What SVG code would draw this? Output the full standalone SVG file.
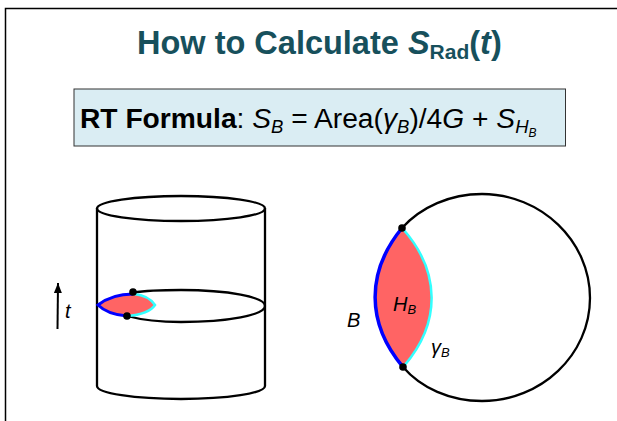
<svg xmlns="http://www.w3.org/2000/svg" width="617" height="421" viewBox="0 0 617 421">
<style>
.s{font-family:"Liberation Sans",Arial,sans-serif}
.i{font-style:italic}
.title{fill:#17505c;font-weight:bold;font-size:32.500px}
.f{fill:#000;font-size:28.200px}
.l{fill:#000;font-size:20px}
.line{fill:none;stroke:#000;stroke-width:2.300}
.dot{fill:#000}
</style>
<defs><marker id="a" markerWidth="10" markerHeight="8" refX="10" refY="4" orient="auto" markerUnits="userSpaceOnUse" viewBox="0 0 10 8"><path d="M0 0L10 4L0 8Z" fill="#000"/></marker></defs>
<path id="frame" d="M617 8.500H5.500V421" fill="none" stroke="#000" stroke-width="1.500"/>
<g id="title"><text class="s title" x="137" y="53.500">How to Calculate <tspan class="i">S</tspan><tspan font-size="21" dy="5">Rad</tspan><tspan dy="-5">(</tspan><tspan class="i">t</tspan>)</text></g>
<g id="formula">
<rect x="74" y="89" width="491.500" height="57" fill="#daedf3" stroke="#333" stroke-width="1"/>
<text class="s f" x="80" y="128"><tspan font-weight="bold">RT Formula</tspan>: <tspan class="i">S</tspan><tspan class="i" font-size="18.500" dy="5">B</tspan><tspan dy="-5"> = Area(</tspan><tspan class="i">γ</tspan><tspan class="i" font-size="18.500" dy="5">B</tspan><tspan dy="-5">)/4</tspan><tspan class="i">G</tspan> + <tspan class="i">S</tspan><tspan class="i" font-size="18.500" dy="5">H</tspan><tspan class="i" font-size="12" dy="4">B</tspan></text>
</g>
<g id="cylinder">
<ellipse class="line" cx="181" cy="208.500" rx="84" ry="12.500"/>
<path class="line" d="M97 208V386A84 13 0 0 0 265 386V208"/>
<path class="line" d="M133 292.500C146 290.500 163 290 181 290C228 290 265 297 265 306C265 315 228 322 181 322C160 322 142 320 127 316"/>
</g>
<g id="time-arrow">
<line x1="57.500" y1="329" x2="58" y2="283" stroke="#000" stroke-width="2" marker-end="url(#a)"/>
<text class="s i l" x="65" y="318" font-size="21">t</text>
</g>
<g id="small-region">
<path d="M98 305C108 298 122 294 134 294C144 295 151 299 155 305C151 311 140 315 127 316C114 315 104 311 98 305Z" fill="#ff6464"/>
<path d="M134 294C144 295 151 299 155 305C151 311 140 315 127 316" fill="none" stroke="#3ff" stroke-width="2.500"/>
<path d="M133 294C120 294 107 298 98 305C104 311 114 315 127 316" fill="none" stroke="#00f" stroke-width="3"/>
<circle class="dot" cx="133" cy="292" r="3.800"/><circle class="dot" cx="127" cy="316" r="3.800"/>
</g>
<g id="circle">
<path class="line" d="M402 228C421 207 450 194 482 194C541 194 590 241 590 298C590 355 541 401 482 401C450 401 421 388 403 367"/>
</g>
<g id="large-region">
<path d="M402 228C366 272 366 323 403 367C441 323 441 272 402 228Z" fill="#ff6464"/>
<path d="M403 229C441 272 441 323 404 366" fill="none" stroke="#3ff" stroke-width="2.500"/>
<path d="M402 228C366 272 366 323 403 367" fill="none" stroke="#00f" stroke-width="3.500"/>
<circle class="dot" cx="402" cy="228" r="3.800"/><circle class="dot" cx="403" cy="367" r="3.800"/>
</g>
<g id="labels">
<text class="s i l" x="393" y="311">H<tspan font-size="13" dy="3">B</tspan></text>
<text class="s i l" x="347" y="327">B</text>
<text class="s i l" x="431" y="354">γ<tspan font-size="13" dy="3">B</tspan></text>
</g>
</svg>
